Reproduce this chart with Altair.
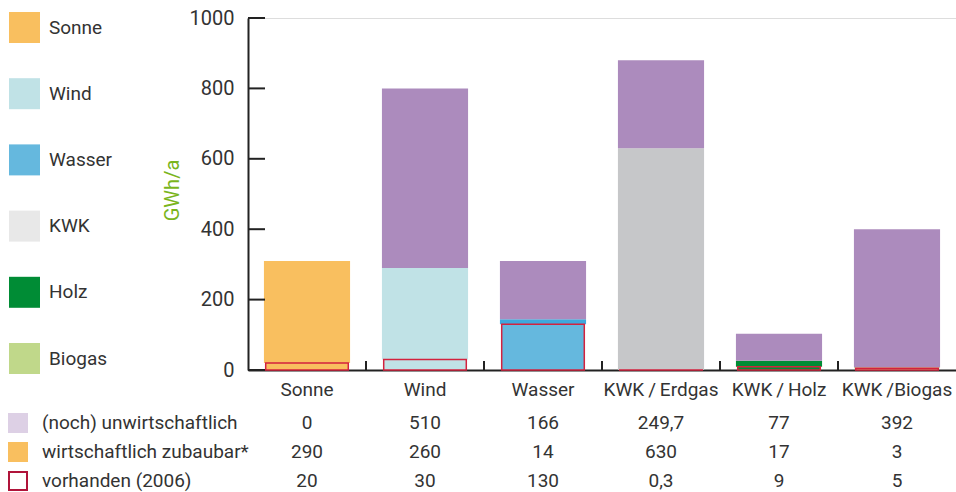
import altair as alt
import pandas as pd

categories = ["Sonne", "Wind", "Wasser", "KWK\u2009/\u2009Erdgas", "KWK\u2009/\u2009Holz", "KWK\u2009/Biogas"]
unwirtschaftlich = [0, 510, 166, 249.7, 77, 392]
zubaubar = [290, 260, 14, 630, 17, 3]
vorhanden = [20, 30, 130, 0.3, 9, 5]
y_ticks = [0, 200, 400, 600, 800, 1000]
legend_names = ["Sonne", "Wind", "Wasser", "KWK", "Holz", "Biogas"]
table_rows = ["(noch) unwirtschaftlich", "wirtschaftlich zubaubar*", "vorhanden (2006)"]

# styles
FONT = "Roboto, Liberation Sans, sans-serif"
FS = 19
legend_colors = ["#f9bf5f", "#c0e2e6", "#65b8de", "#e8e8e8", "#008c35", "#c0d88a"]
zub_colors = ["#f9bf5f", "#c0e2e6", "#3ea8dd", "#c6c7c9", "#008c35", "#c0d88a"]
vorh_colors = ["#f9bf5f", "#c0e2e6", "#65b8de", "#c6c7c9", "#008c35", "#c0d88a"]
PURPLE = "#ac8bbd"
RED = "#d3223e"
AXIS = "#222222"
TEXT = "#333333"

W, H = 708, 352


def de(v):
    s = f"{v:g}"
    return s.replace(".", ",")


rows = []
for i, c in enumerate(categories):
    v, z, u = vorhanden[i], zubaubar[i], unwirtschaftlich[i]
    rows.append(dict(cat=c, seg="zub", y0=v, y1=v + z, fill=zub_colors[i]))
    rows.append(dict(cat=c, seg="unw", y0=v + z, y1=v + z + u, fill=PURPLE))
seg_df = pd.DataFrame(rows)
vorh_df = pd.DataFrame(dict(cat=categories, y0=[0] * 6, y1=vorhanden, fill=vorh_colors))

xscale = alt.Scale(domain=categories, paddingInner=0, paddingOuter=0)
yscale = alt.Scale(domain=[0, 1000], nice=False)

xenc = alt.X("cat:N", scale=xscale, sort=categories,
             axis=alt.Axis(title=None, ticks=False, labelAngle=0, labelFont=FONT,
                           labelFontSize=FS, labelColor=TEXT, labelPadding=10,
                           domainColor=AXIS, domainWidth=2))

bars = alt.Chart(seg_df).mark_bar(width=alt.RelativeBandSize(0.73)).encode(
    x=xenc,
    y=alt.Y("y0:Q", scale=yscale,
            axis=alt.Axis(title="GWh/a", values=y_ticks, format="d", ticks=False, grid=False,
                          labelFont=FONT, labelFontSize=FS + 1, labelColor=TEXT,
                          labelPadding=14, domainColor=AXIS, domainWidth=2,
                          titleFont=FONT, titleFontSize=FS + 1, titleFontWeight="normal",
                          titleColor="#7ab51d", titleX=-66, titleY=172, titleAngle=-90)),
    y2="y1:Q",
    color=alt.Color("fill:N", scale=None),
)

vorh = alt.Chart(vorh_df).mark_bar(width=alt.RelativeBandSize(0.70), stroke=RED,
                                   strokeWidth=1.5).encode(
    x=alt.X("cat:N", scale=xscale, sort=categories),
    y=alt.Y("y0:Q", scale=yscale),
    y2="y1:Q",
    color=alt.Color("fill:N", scale=None),
)

yticks = alt.Chart(pd.DataFrame(dict(t=y_ticks))).mark_rule(color=AXIS, strokeWidth=2).encode(
    y=alt.Y("t:Q", scale=yscale), x=alt.value(0), x2=alt.value(17))

xticks = alt.Chart(pd.DataFrame(dict(cat=categories[1:]))).mark_rule(color=AXIS, strokeWidth=2).encode(
    x=alt.X("cat:N", scale=xscale, sort=categories, bandPosition=0),
    y=alt.value(H - 9), y2=alt.value(H))

# left legend
leg_df = pd.DataFrame(dict(name=legend_names, color=legend_colors, idx=list(range(6))))
leg_sw = alt.Chart(leg_df).transform_calculate(py="9.5 + datum.idx * 66.2").mark_square(
    size=961, opacity=1).encode(
    x=alt.value(-223.5), y=alt.Y("py:Q", scale=None), color=alt.Color("color:N", scale=None))
leg_tx = alt.Chart(leg_df).transform_calculate(py="9.5 + datum.idx * 66.2").mark_text(
    align="left", baseline="middle", font=FONT, fontSize=FS, color=TEXT).encode(
    x=alt.value(-199), y=alt.Y("py:Q", scale=None), text="name:N")

# table
table_values = [unwirtschaftlich, zubaubar, vorhanden]
row_y = [405, 434, 463]
table_layers = []
for r, vals in enumerate(table_values):
    tdf = pd.DataFrame(dict(cat=categories, label=[de(v) for v in vals]))
    table_layers.append(alt.Chart(tdf).mark_text(
        baseline="middle", font=FONT, fontSize=FS, color=TEXT).encode(
        x=alt.X("cat:N", scale=xscale, sort=categories), y=alt.value(row_y[r]), text="label:N"))

tab_df = pd.DataFrame(dict(name=table_rows, idx=[0, 1, 2],
                           fill=["#ddd0e5", "#f9bf5f", "#ffffff"],
                           stroke=["#ddd0e5", "#f9bf5f", "#b0143a"]))
tab_sw = alt.Chart(tab_df).transform_calculate(py="405 + datum.idx * 29").mark_square(
    size=324, opacity=1, strokeWidth=2).encode(
    x=alt.value(-230), y=alt.Y("py:Q", scale=None),
    fill=alt.Fill("fill:N", scale=None), stroke=alt.Stroke("stroke:N", scale=None))
tab_tx = alt.Chart(tab_df).transform_calculate(py="405 + datum.idx * 29").mark_text(
    align="left", baseline="middle", font=FONT, fontSize=FS, color=TEXT).encode(
    x=alt.value(-206), y=alt.Y("py:Q", scale=None), text="name:N")

chart = alt.layer(bars, vorh, yticks, xticks, leg_sw, leg_tx, tab_sw, tab_tx, *table_layers).properties(
    width=W, height=H,
    autosize=alt.AutoSizeParams(type="none"),
    padding={"left": 248, "top": 18, "right": 0, "bottom": 122},
).configure_view(stroke=None).configure(background="white")

chart.save("out.html", embed_options={"renderer": "svg", "actions": False})
